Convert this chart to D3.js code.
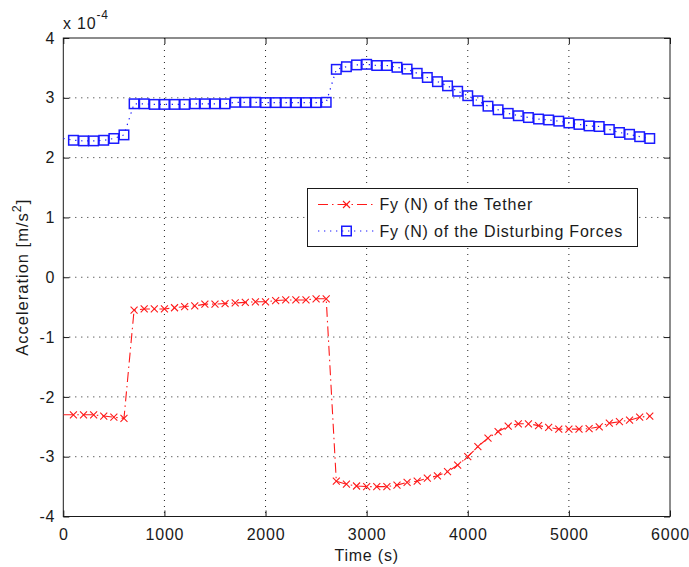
<!DOCTYPE html>
<html>
<head>
<meta charset="utf-8">
<script src="https://cdn.jsdelivr.net/npm/d3@7"></script>
<style>
  html, body { margin: 0; padding: 0; background: #fff; }
  svg text { font-family: "Liberation Sans", Arial, Helvetica, sans-serif; fill: #1a1a1a; }
</style>
</head>
<body>
<svg id="chart" width="689" height="567"></svg>
<script>
// Sample times (s)
const times = [0,100,200,300,400,500,600,700,800,900,1000,1100,1200,1300,1400,1500,1600,1700,1800,1900,
  2000,2100,2200,2300,2400,2500,2600,2700,2800,2900,3000,3100,3200,3300,3400,3500,3600,3700,3800,3900,
  4000,4100,4200,4300,4400,4500,4600,4700,4800,4900,5000,5100,5200,5300,5400,5500,5600,5700,5800];

// Fy of the tether (x 1e-4 m/s^2)
const tetherFy = [-2.30,-2.30,-2.30,-2.30,-2.32,-2.34,-2.36,-0.55,-0.53,-0.53,-0.53,-0.51,-0.49,-0.48,-0.45,-0.45,
  -0.44,-0.43,-0.42,-0.41,-0.41,-0.39,-0.38,-0.38,-0.38,-0.36,-0.36,-3.41,-3.46,-3.49,-3.50,-3.50,-3.50,-3.475,
  -3.43,-3.41,-3.36,-3.32,-3.25,-3.14,-3.00,-2.83,-2.69,-2.58,-2.49,-2.45,-2.45,-2.48,-2.51,-2.54,-2.54,-2.54,
  -2.53,-2.50,-2.44,-2.415,-2.39,-2.34,-2.32];

// Fy of the disturbing forces (x 1e-4 m/s^2)
const disturbFy = [2.32,2.29,2.28,2.28,2.29,2.32,2.38,2.90,2.90,2.89,2.89,2.89,2.89,2.90,2.90,2.90,2.90,2.925,
  2.925,2.925,2.92,2.92,2.92,2.92,2.92,2.92,2.925,3.476,3.52,3.55,3.56,3.54,3.54,3.51,3.48,3.41,3.34,3.27,3.20,
  3.11,3.035,2.95,2.86,2.80,2.74,2.70,2.67,2.645,2.63,2.61,2.58,2.555,2.53,2.52,2.47,2.42,2.39,2.35,2.32];

const xTicks = [0,1000,2000,3000,4000,5000,6000];
const yTicks = [-4,-3,-2,-1,0,1,2,3,4];
const seriesNames = ["Fy (N) of the Tether", "Fy (N) of the Disturbing Forces"];

const svg = d3.select("#chart");
const pLeft = 63.3, pRight = 670, pTop = 38, pBottom = 516.5;
const x = d3.scaleLinear().domain([0, 6000]).range([pLeft, pRight]);
const y = d3.scaleLinear().domain([-4, 4]).range([pBottom, pTop]);

const LS = "0.8px";
const axisColor = "#1a1a1a";
const plainNum = d => String(d);   // ASCII hyphen for negatives

// grid
const grid = svg.append("g");
grid.selectAll("line.gx").data(xTicks.slice(1, -1)).join("line")
  .attr("x1", d => x(d)).attr("x2", d => x(d)).attr("y1", pTop).attr("y2", pBottom)
  .attr("stroke", "#222").attr("stroke-width", 1).attr("stroke-dasharray", "1,5");
grid.selectAll("line.gy").data(yTicks.slice(1, -1)).join("line")
  .attr("y1", d => y(d)).attr("y2", d => y(d)).attr("x1", pLeft).attr("x2", pRight)
  .attr("stroke", "#222").attr("stroke-width", 1).attr("stroke-dasharray", "1,5");

// axes with inward ticks on all four sides
function styleAxis(g) {
  g.select(".domain").remove();
  g.selectAll(".tick line").attr("stroke", axisColor);
  g.selectAll("text").attr("font-size", 16).attr("letter-spacing", LS).attr("fill", axisColor)
    .style("font-family", '"Liberation Sans", Arial, sans-serif');
}
svg.append("g").attr("transform", `translate(0,${pBottom})`)
  .call(d3.axisBottom(x).tickValues(xTicks).tickSize(-6).tickPadding(12).tickFormat(plainNum))
  .call(styleAxis);
svg.append("g").attr("transform", `translate(0,${pTop})`)
  .call(d3.axisTop(x).tickValues(xTicks).tickSize(-6).tickFormat(""))
  .call(styleAxis);
svg.append("g").attr("transform", `translate(${pLeft},0)`)
  .call(d3.axisLeft(y).tickValues(yTicks).tickSize(-6).tickPadding(8).tickFormat(plainNum))
  .call(styleAxis);
svg.append("g").attr("transform", `translate(${pRight},0)`)
  .call(d3.axisRight(y).tickValues(yTicks).tickSize(-6).tickFormat(""))
  .call(styleAxis);

// box
svg.append("rect").attr("x", pLeft).attr("y", pTop).attr("width", pRight - pLeft).attr("height", pBottom - pTop)
  .attr("fill", "none").attr("stroke", axisColor).attr("stroke-width", 1);

// clip to the plot area
svg.append("clipPath").attr("id", "plotclip").append("rect")
  .attr("x", pLeft).attr("y", pTop).attr("width", pRight - pLeft).attr("height", pBottom - pTop);
const plot = svg.append("g").attr("clip-path", "url(#plotclip)");

const tether = times.map((t, i) => ({ t, v: tetherFy[i] }));
const disturb = times.map((t, i) => ({ t, v: disturbFy[i] }));
const line = d3.line().x(d => x(d.t)).y(d => y(d.v));

const red = "#ff1a1a", blue = "#1a1aff";
const redDash = "10,4,1.5,4";
const blueDash = "1.3,4.7";

// disturbing forces: dotted line with square markers
plot.append("path").datum(disturb).attr("d", line)
  .attr("fill", "none").attr("stroke", blue).attr("stroke-width", 1.2).attr("stroke-dasharray", blueDash);
const sq = 9.5;
plot.selectAll("rect.sq").data(disturb.filter(d => d.t > 0)).join("rect")
  .attr("x", d => x(d.t) - sq / 2).attr("y", d => y(d.v) - sq / 2)
  .attr("width", sq).attr("height", sq)
  .attr("fill", "none").attr("stroke", blue).attr("stroke-width", 1.5);

// tether: dash-dot line with x markers
plot.append("path").datum(tether).attr("d", line)
  .attr("fill", "none").attr("stroke", red).attr("stroke-width", 1.1).attr("stroke-dasharray", redDash);
const xm = 3.5;
function crossPath(cx, cy) {
  return `M${cx - xm},${cy - xm}L${cx + xm},${cy + xm}M${cx - xm},${cy + xm}L${cx + xm},${cy - xm}`;
}
plot.selectAll("path.xm").data(tether.filter(d => d.t > 0)).join("path")
  .attr("d", d => crossPath(x(d.t), y(d.v)))
  .attr("fill", "none").attr("stroke", red).attr("stroke-width", 1.1);

// exponent label
const expo = svg.append("text").attr("x", 63).attr("y", 29).attr("font-size", 16).attr("letter-spacing", LS);
expo.append("tspan").text("x 10");
expo.append("tspan").attr("font-size", 12).attr("dy", -10).text("-4");

// axis titles
svg.append("text").attr("x", (pLeft + pRight) / 2).attr("y", 561).attr("text-anchor", "middle")
  .attr("font-size", 16).attr("letter-spacing", LS).text("Time (s)");
const yl = svg.append("text").attr("transform", `translate(28,${(pTop + pBottom) / 2}) rotate(-90)`)
  .attr("text-anchor", "middle").attr("font-size", 16.5).attr("letter-spacing", "1px");
yl.append("tspan").text("Acceleration [m/s");
yl.append("tspan").attr("font-size", 12.5).attr("dy", -7).text("2");
yl.append("tspan").attr("dy", 7).text("]");

// legend
const lg = svg.append("g");
lg.append("rect").attr("x", 307.5).attr("y", 188.5).attr("width", 330).attr("height", 58)
  .attr("fill", "#fff").attr("stroke", axisColor).attr("stroke-width", 1);
const legendRows = [
  { name: seriesNames[0], color: red, dash: redDash, marker: "x", y: 204.5 },
  { name: seriesNames[1], color: blue, dash: blueDash, marker: "sq", y: 231 }
];
legendRows.forEach(r => {
  lg.append("line").attr("x1", 318).attr("x2", 375).attr("y1", r.y).attr("y2", r.y)
    .attr("stroke", r.color).attr("stroke-width", r.marker === "x" ? 1.1 : 1.2).attr("stroke-dasharray", r.dash);
  if (r.marker === "x") {
    lg.append("path").attr("d", crossPath(346.5, r.y)).attr("stroke", r.color).attr("stroke-width", 1.1).attr("fill", "none");
  } else {
    lg.append("rect").attr("x", 346.5 - sq / 2).attr("y", r.y - sq / 2).attr("width", sq).attr("height", sq)
      .attr("fill", "none").attr("stroke", r.color).attr("stroke-width", 1.5);
  }
  lg.append("text").attr("x", 379.5).attr("y", r.y).attr("dy", "0.36em")
    .attr("font-size", 16).attr("letter-spacing", LS).text(r.name);
});
</script>
</body>
</html>
